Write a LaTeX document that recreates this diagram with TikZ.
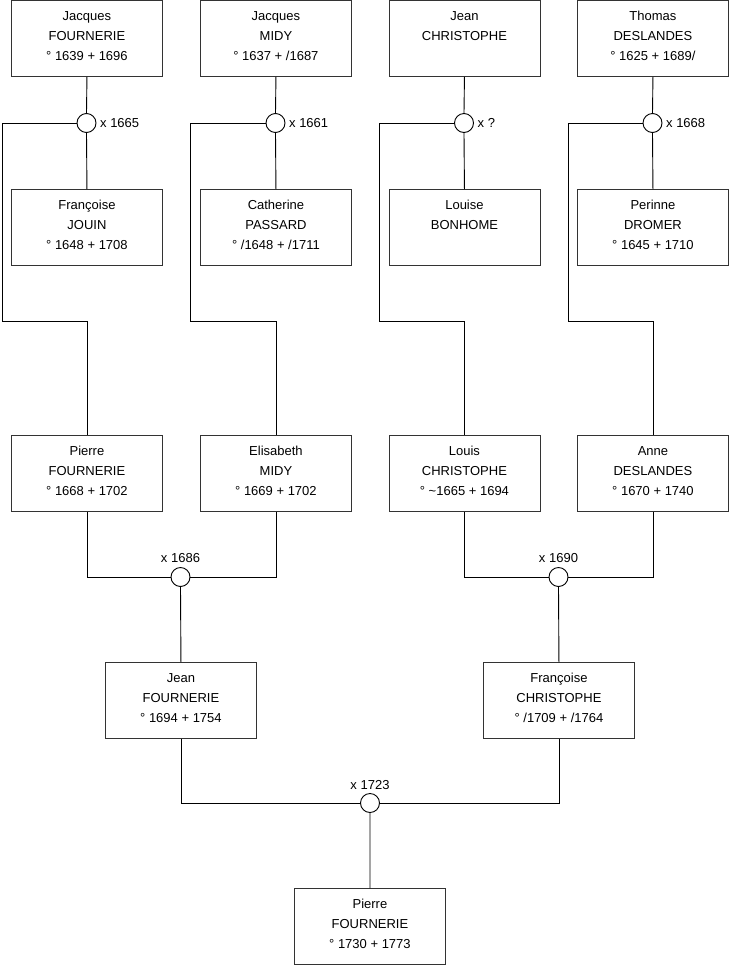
\documentclass[tikz,border=0pt]{standalone}
\usepackage{fontspec}
\setmainfont{Liberation Sans}
\begin{document}
\begin{tikzpicture}[x=1pt,y=-1pt,
  pbox/.style={draw=black!80, line width=0.9pt, anchor=north west, minimum width=151pt, minimum height=76pt, inner sep=0pt},
  ptext/.style={anchor=north, yshift=-11pt, inner sep=0pt, align=center, font=\fontsize{13}{20}\selectfont},
  marr/.style={circle, draw=black, line width=0.9pt, fill=white, minimum size=19pt, inner sep=0pt},
  mlab/.style={inner sep=0pt, font=\fontsize{13}{15}\selectfont},
  link/.style={draw=black, line width=0.9pt}]
\useasboundingbox (0,0) rectangle (740,975);
\fill[white] (0,0) rectangle (740,975);
\newcommand\person[4]{%
  \node[pbox] (#1) at (#2,#3) {};
  \node[ptext] at (#1.north) {#4};}
% row 1
\person{jaf}{11}{0}{Jacques\\FOURNERIE\\° 1639 + 1696}
\person{jam}{200}{0}{Jacques\\MIDY\\° 1637 + /1687}
\person{jec}{388.5}{0}{Jean\\CHRISTOPHE}
\person{thd}{577}{0}{Thomas\\DESLANDES\\° 1625 + 1689/}
% row 2
\person{frj}{11}{189}{Françoise\\JOUIN\\° 1648 + 1708}
\person{cap}{200}{189}{Catherine\\PASSARD\\° /1648 + /1711}
\person{lob}{388.5}{189}{Louise\\BONHOME}
\person{ped}{577}{189}{Perinne\\DROMER\\° 1645 + 1710}
% row 3
\person{pif}{11}{435}{Pierre\\FOURNERIE\\° 1668 + 1702}
\person{elm}{200}{435}{Elisabeth\\MIDY\\° 1669 + 1702}
\person{loc}{388.5}{435}{Louis\\CHRISTOPHE\\° \textasciitilde1665 + 1694}
\person{and}{577}{435}{Anne\\DESLANDES\\° 1670 + 1740}
% row 4
\person{jef}{105}{662}{Jean\\FOURNERIE\\° 1694 + 1754}
\person{frc}{483}{662}{Françoise\\CHRISTOPHE\\° /1709 + /1764}
% row 5
\person{pf2}{294}{888}{Pierre\\FOURNERIE\\° 1730 + 1773}
% marriages row 1
\node[marr] (m1) at (86.5,123) {};
\node[marr] (m2) at (275.5,123) {};
\node[marr] (m3) at (464,123) {};
\node[marr] (m4) at (652.5,123) {};
\node[mlab, anchor=west] (l1) at ([xshift=3.5pt]m1.east) {x 1665};
\node[mlab, anchor=west] (l2) at ([xshift=3.5pt]m2.east) {x 1661};
\node[mlab, anchor=west] (l3) at ([xshift=3.5pt]m3.east) {x ?};
\node[mlab, anchor=west] (l4) at ([xshift=3.5pt]m4.east) {x 1668};
% marriages lower
\node[marr] (m5) at (180.5,577) {};
\node[marr] (m6) at (558.5,577) {};
\node[marr] (m7) at (370,803) {};
\node[mlab, anchor=base] (l5) at (180.5,562.5) {x 1686};
\node[mlab, anchor=base] (l6) at (558.5,562.5) {x 1690};
\node[mlab, anchor=base] (l7) at (370,789) {x 1723};
% coordinates for side lines
\coordinate (a1) at (2,123);   \coordinate (b1) at (2,321);
\coordinate (a2) at (190.5,123); \coordinate (b2) at (190.5,321);
\coordinate (a3) at (379,123); \coordinate (b3) at (379,321);
\coordinate (a4) at (568,123); \coordinate (b4) at (568,321);
% connectors row 1-2
\path[link] (jaf.south) -- (m1.north) (m1.south) -- (frj.north);
\path[link] (jam.south) -- (m2.north) (m2.south) -- (cap.north);
\path[link] (jec.south) -- (m3.north) (m3.south) -- (lob.north);
\path[link] (thd.south) -- (m4.north) (m4.south) -- (ped.north);
\path[link] (m1.west) -- (a1) -- (b1) -| (pif.north);
\path[link] (m2.west) -- (a2) -- (b2) -| (elm.north);
\path[link] (m3.west) -- (a3) -- (b3) -| (loc.north);
\path[link] (m4.west) -- (a4) -- (b4) -| (and.north);
% connectors row 3-4
\path[link] (pif.south) |- (m5.west);
\path[link] (elm.south) |- (m5.east);
\path[link] (m5.south) -- (jef.north);
\path[link] (loc.south) |- (m6.west);
\path[link] (and.south) |- (m6.east);
\path[link] (m6.south) -- (frc.north);
\path[link] (jef.south) |- (m7.west);
\path[link] (frc.south) |- (m7.east);
\path[link] (m7.south) -- (pf2.north);
\end{tikzpicture}
\end{document}
